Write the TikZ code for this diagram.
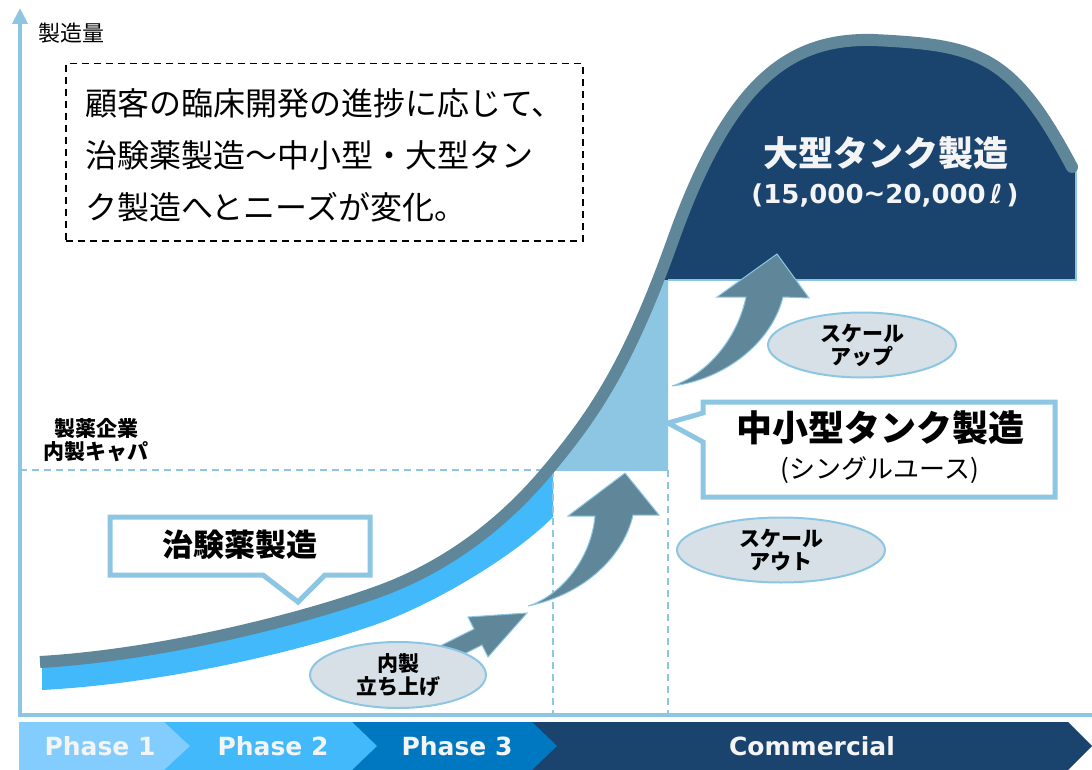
\documentclass[tikz,border=0pt]{standalone}
\usepackage{fontspec}
\newfontfamily\jp{Noto Sans CJK JP}
\newfontfamily\vd{DejaVu Sans}
\usetikzlibrary{arrows.meta,shapes.geometric}
\definecolor{axisblue}{HTML}{8DC6E2}
\definecolor{curvegrey}{HTML}{5F8799}
\definecolor{bandblue}{HTML}{41B9FB}
\definecolor{navy}{HTML}{1A446E}
\definecolor{ellfill}{HTML}{D6E0E6}
\definecolor{phA}{HTML}{82CDFD}
\definecolor{phB}{HTML}{41B9FB}
\definecolor{phC}{HTML}{0078C1}
\definecolor{offwhite}{HTML}{F4F4F4}
\def\curvepts{(40,662) .. controls (160,655) and (300,620) .. (380,591) .. controls (440,569) and (498,530) .. (548,470) .. controls (593,416) and (628,366) .. (673,240) .. controls (730,80) and (790,38) .. (873,40) .. controls (979,45) and (1012,54) .. (1072,167)}
\tikzset{
  jpt/.style={font=\jp\fontsize{#1}{#1}\selectfont},
  jpb/.style={font=\jp\bfseries\fontsize{#1}{#1}\selectfont},
  elltext/.style={font=\jp\bfseries\fontsize{21}{23}\selectfont},
  phasetext/.style={font=\vd\bfseries\fontsize{25}{25}\selectfont, text=offwhite},
  ellbox/.style={ellipse, fill=ellfill, draw=axisblue, line width=2pt, align=center, inner sep=0pt},
  calloutline/.style={draw=axisblue, fill=white, line width=5pt, line join=miter},
  dashline/.style={axisblue, line width=2pt, dash pattern=on 7pt off 5pt},
  blockarrow/.style={fill=curvegrey, draw=axisblue, line width=1pt, line join=miter},
}
\begin{document}
\begin{tikzpicture}[x=1pt,y=-1pt]
\useasboundingbox (0,0) rectangle (1092,770);
% region under the curve: navy part
\begin{scope}
  \clip (600,0) rectangle (1076,280);
  \fill[navy] \curvepts -- (1100,167) -- (1100,800) -- (0,800) -- (0,662) -- cycle;
\end{scope}
% light blue part
\begin{scope}
  \clip (530,280) rectangle (668,470);
  \fill[axisblue] \curvepts -- (1100,167) -- (1100,800) -- (0,800) -- (0,662) -- cycle;
\end{scope}
\draw[axisblue, line width=1.5pt] (668,280) -- (1076,280) -- (1076,168);
% blue band
\begin{scope}
  \clip (42,0) rectangle (553,800);
  \clip (42,690) .. controls (160,684) and (300,652) .. (380,623) .. controls (430,605) and (510,560) .. (553,517) -- (560,517) -- (560,0) -- (42,0) -- cycle;
  \fill[bandblue] \curvepts -- (1100,167) -- (1100,800) -- (0,800) -- (0,662) -- cycle;
\end{scope}
% dashed guides
\coordinate (capL) at (20,470);
\coordinate (capR) at (553,470);
\coordinate (v1t) at (553,470);
\coordinate (v1b) at (553,715);
\coordinate (v2t) at (668,470);
\coordinate (v2b) at (668,715);
\draw[dashline] (capL) -- (capR);
\draw[dashline] (v1t) -- (v1b);
\draw[dashline] (v2t) -- (v2b);
% axes
\coordinate (origin) at (20,715);
\coordinate (ytop) at (20,8);
\coordinate (xstart) at (18,715);
\coordinate (xend) at (1092,715);
\draw[axisblue, line width=4pt] (xstart) -- (xend);
\draw[axisblue, line width=4pt, -{Triangle[width=15pt,length=16pt]}] (origin) -- (ytop);
% the curve
\draw[curvegrey, line width=12pt, line cap=butt] \curvepts;
\fill[curvegrey] (1072,167) circle (6pt);
% arrows
\draw[blockarrow] (420,656) -- (474,629) -- (468,617) -- (527,613) -- (488,657) -- (482,645) -- (428,672) -- cycle;
\draw[blockarrow] (528,606) .. controls (560,596) and (591,560) .. (595,516) -- (568,516) -- (625,473) -- (659,515) -- (633,515) .. controls (624,555) and (586,594) .. (528,606) -- cycle;
\draw[blockarrow] (672,386) .. controls (706,375) and (737,340) .. (746,297) -- (717,297) -- (777,254) -- (809,298) -- (783,297) .. controls (771,345) and (722,380) .. (672,386) -- cycle;
% ellipses
\node[ellbox, minimum width=176pt, minimum height=66pt, elltext] (naisei) at (398,675) {内製\\立ち上げ};
\node[ellbox, minimum width=188pt, minimum height=65pt, elltext] (scaleup) at (862,345) {スケール\\アップ};
\node[ellbox, minimum width=208pt, minimum height=65pt, elltext] (scaleout) at (781,550) {スケール\\アウト};
% callouts
\draw[calloutline] (110,517) -- (370,517) -- (370,575) -- (325,575) -- (298,602) -- (263,575) -- (110,575) -- cycle;
\node[jpb=31] (chiken) at (240,545) {治験薬製造};
\draw[calloutline] (703,402) -- (1055,402) -- (1055,497) -- (703,497) -- (703,442) -- (668,423) -- (703,413) -- cycle;
\node[jpb=36] (smalltank) at (880,428) {中小型タンク製造};
\node[jpt=26] (single) at (880,470) {(シングルユース)};
% big tank text
\node[jpb=35, text=offwhite] (bigtank) at (886,153) {大型タンク製造};
\node[font=\vd\bfseries\fontsize{26}{26}\selectfont, text=offwhite] (vol) at (885,195) {(15,000\raisebox{1pt}{\textasciitilde}20,000\,ℓ\,)};
% labels
\node[jpt=22, anchor=west] (ylabel) at (35,33) {製造量};
\node[jpb=21, align=center] (cap) at (96,440) {製薬企業\\[2pt]内製キャパ};
% note box
\node[draw, dashed, line width=1.5pt, dash pattern=on 7pt off 5pt, minimum width=517pt, minimum height=177pt, anchor=north west, inner sep=0pt] (note) at (65,63) {};
\node[jpt=32, anchor=west] (n1) at (82,103) {顧客の臨床開発の進捗に応じて、};
\node[jpt=32, anchor=west] (n2) at (82,155) {治験薬製造～中小型・大型タン};
\node[jpt=32, anchor=west] (n3) at (82,207) {ク製造へとニーズが変化。};
% phase bar
\fill[navy] (19,722) -- (1068,722) -- (1092,746) -- (1068,770) -- (19,770) -- cycle;
\fill[phC] (19,722) -- (532,722) -- (557,746) -- (532,770) -- (19,770) -- cycle;
\fill[phB] (19,722) -- (352,722) -- (377,746) -- (352,770) -- (19,770) -- cycle;
\fill[phA] (19,722) -- (164,722) -- (190,746) -- (164,770) -- (19,770) -- cycle;
\node[phasetext] (p1) at (100,746) {Phase 1};
\node[phasetext] (p2) at (273,746) {Phase 2};
\node[phasetext] (p3) at (457,746) {Phase 3};
\node[phasetext] (pc) at (812,746) {Commercial};
\end{tikzpicture}
\end{document}
